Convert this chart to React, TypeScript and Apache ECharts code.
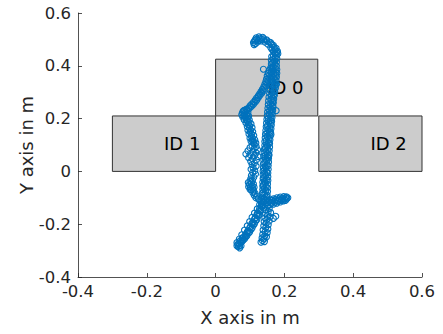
import React, { useEffect, useRef } from "react";
import * as echarts from "echarts";

// Obstacles (rectangles) and their labels
const rectX0 = [0, -0.3, 0.3];
const rectX1 = [0.297, 0, 0.6];
const rectY0 = [0.21, 0, 0];
const rectY1 = [0.425, 0.21, 0.21];
const rectLabels = ["ID 0", "ID 1", "ID 2"];
const labelX = [0.15, -0.15, 0.45];
const labelY = [0.316, 0.104, 0.104];

const xTickLabels = ["-0.4", "-0.2", "0", "0.2", "0.4", "0.6"];
const yTickLabels = ["-0.4", "-0.2", "0", "0.2", "0.4", "0.6"];

// Trajectory segments
const pathBottomLeft: number[][] = [
  [0.066, -0.284], [0.070, -0.280], [0.068, -0.274], [0.073, -0.270], [0.076, -0.266],
  [0.072, -0.262], [0.080, -0.259], [0.084, -0.256], [0.080, -0.251], [0.088, -0.248],
  [0.091, -0.244], [0.087, -0.238], [0.095, -0.234], [0.099, -0.230], [0.095, -0.224],
  [0.103, -0.220], [0.106, -0.214], [0.102, -0.208], [0.110, -0.204], [0.113, -0.198],
  [0.109, -0.192], [0.117, -0.188], [0.120, -0.182], [0.116, -0.176], [0.124, -0.170],
  [0.126, -0.164], [0.122, -0.158], [0.130, -0.152], [0.132, -0.146], [0.128, -0.140],
  [0.135, -0.134], [0.137, -0.128], [0.133, -0.122], [0.140, -0.116], [0.141, -0.110],
  [0.064, -0.276], [0.078, -0.252], [0.092, -0.230], [0.107, -0.200], [0.121, -0.166],
];
const pathBottomLeftB: number[][] = [
  [0.074, -0.282], [0.062, -0.270], [0.079, -0.262], [0.069, -0.256], [0.086, -0.244],
  [0.076, -0.240], [0.093, -0.228], [0.084, -0.222], [0.099, -0.214], [0.092, -0.206],
  [0.106, -0.196], [0.099, -0.190], [0.113, -0.180], [0.106, -0.174], [0.120, -0.164],
  [0.113, -0.158], [0.127, -0.148], [0.121, -0.142], [0.133, -0.132], [0.128, -0.126],
  [0.138, -0.118], [0.134, -0.114], [0.070, -0.290], [0.062, -0.282],
];
const pathRightStrand: number[][] = [
  [0.146, -0.108], [0.140, -0.101], [0.148, -0.094], [0.143, -0.087], [0.138, -0.080],
  [0.146, -0.073], [0.141, -0.066], [0.147, -0.059], [0.139, -0.052], [0.145, -0.045],
  [0.142, -0.038], [0.148, -0.031], [0.140, -0.024], [0.146, -0.017], [0.143, -0.010],
  [0.149, -0.003], [0.141, 0.004], [0.147, 0.011], [0.144, 0.018], [0.150, 0.025],
  [0.143, 0.032], [0.149, 0.039], [0.145, 0.046], [0.151, 0.053], [0.144, 0.060],
  [0.150, 0.067], [0.146, 0.074], [0.152, 0.081], [0.145, 0.088], [0.151, 0.095],
  [0.148, 0.102], [0.154, 0.109], [0.147, 0.116], [0.155, 0.123], [0.150, 0.130],
  [0.156, 0.137], [0.149, 0.144], [0.157, 0.151], [0.152, 0.158], [0.158, 0.165],
  [0.151, 0.172], [0.159, 0.179], [0.154, 0.186], [0.160, 0.193], [0.153, 0.200],
  [0.161, 0.207], [0.156, 0.214], [0.162, 0.221], [0.157, 0.228], [0.163, 0.235],
  [0.158, 0.242], [0.165, 0.249], [0.160, 0.256], [0.166, 0.263], [0.161, 0.270],
  [0.167, 0.277], [0.162, 0.284], [0.169, 0.291], [0.163, 0.298], [0.170, 0.305],
  [0.165, 0.312], [0.171, 0.319], [0.166, 0.326], [0.172, 0.333], [0.167, 0.340],
  [0.173, 0.347], [0.168, 0.354], [0.174, 0.361], [0.169, 0.368], [0.175, 0.375],
  [0.168, 0.382], [0.174, 0.389], [0.167, 0.396], [0.173, 0.403], [0.166, 0.410],
  [0.172, 0.417], [0.167, 0.424], [0.173, 0.431], [0.168, 0.438], [0.174, 0.445],
  [0.176, 0.230], [0.155, 0.060], [0.161, 0.140], [0.177, 0.330],
];
const pathRightStrandB: number[][] = [
  [0.150, -0.104], [0.136, -0.097], [0.150, -0.090], [0.136, -0.083], [0.151, -0.076],
  [0.137, -0.069], [0.151, -0.062], [0.137, -0.055], [0.151, -0.048], [0.137, -0.041],
  [0.152, -0.034], [0.138, -0.027], [0.152, -0.020], [0.138, -0.013], [0.152, -0.006],
  [0.138, 0.001], [0.153, 0.008], [0.139, 0.015], [0.153, 0.022], [0.139, 0.029],
  [0.154, 0.036], [0.140, 0.043], [0.154, 0.050], [0.140, 0.057], [0.155, 0.064],
  [0.141, 0.071], [0.156, 0.078], [0.142, 0.085], [0.157, 0.092], [0.143, 0.099],
  [0.157, 0.106], [0.143, 0.113], [0.158, 0.120], [0.144, 0.127], [0.159, 0.134],
  [0.145, 0.141], [0.160, 0.148], [0.146, 0.155], [0.161, 0.162], [0.147, 0.169],
  [0.162, 0.176], [0.148, 0.183], [0.163, 0.190], [0.149, 0.197], [0.164, 0.204],
  [0.150, 0.211], [0.165, 0.218], [0.151, 0.225], [0.166, 0.232], [0.152, 0.239],
  [0.167, 0.246], [0.153, 0.253], [0.168, 0.260], [0.154, 0.267], [0.169, 0.274],
  [0.155, 0.281], [0.171, 0.288], [0.157, 0.295], [0.172, 0.302], [0.158, 0.309],
  [0.174, 0.316], [0.160, 0.323], [0.175, 0.330], [0.161, 0.337], [0.176, 0.344],
  [0.162, 0.351], [0.177, 0.358], [0.163, 0.365], [0.178, 0.372], [0.163, 0.379],
  [0.178, 0.386], [0.163, 0.393], [0.177, 0.400], [0.162, 0.407], [0.177, 0.414],
  [0.162, 0.421], [0.178, 0.428], [0.163, 0.435],
];
const pathTopCurl: number[][] = [
  [0.177, 0.452], [0.173, 0.461], [0.170, 0.470], [0.163, 0.480], [0.156, 0.490],
  [0.148, 0.498], [0.140, 0.502], [0.129, 0.505], [0.120, 0.500], [0.113, 0.494],
  [0.110, 0.488], [0.168, 0.455], [0.160, 0.470], [0.152, 0.482], [0.143, 0.490],
  [0.133, 0.494], [0.122, 0.490], [0.116, 0.484], [0.178, 0.440], [0.180, 0.455],
  [0.118, 0.506], [0.126, 0.510], [0.137, 0.508], [0.139, 0.387], [0.164, 0.462],
  [0.181, 0.446], [0.176, 0.466], [0.168, 0.478], [0.160, 0.488], [0.150, 0.494],
  [0.134, 0.500], [0.124, 0.496], [0.115, 0.498], [0.112, 0.480], [0.171, 0.448],
];
const pathLeftStrand: number[][] = [
  [0.160, 0.392], [0.156, 0.383], [0.153, 0.372], [0.150, 0.362], [0.148, 0.350],
  [0.146, 0.340], [0.143, 0.330], [0.140, 0.320], [0.136, 0.311], [0.132, 0.302],
  [0.128, 0.294], [0.124, 0.286], [0.119, 0.278], [0.115, 0.270], [0.110, 0.262],
  [0.105, 0.255], [0.100, 0.248], [0.096, 0.240], [0.092, 0.234],
  [0.085, 0.232], [0.080, 0.228], [0.078, 0.222], [0.083, 0.218], [0.088, 0.224],
  [0.084, 0.212], [0.090, 0.215], [0.086, 0.205], [0.092, 0.208], [0.089, 0.198],
  [0.094, 0.200], [0.092, 0.190], [0.097, 0.185], [0.095, 0.178], [0.099, 0.172],
  [0.098, 0.163], [0.102, 0.156], [0.101, 0.148], [0.105, 0.140], [0.104, 0.132],
  [0.108, 0.124], [0.107, 0.116], [0.111, 0.110],
  [0.112, 0.104], [0.106, 0.098], [0.118, 0.094], [0.100, 0.090], [0.112, 0.086],
  [0.122, 0.082], [0.094, 0.078], [0.108, 0.074], [0.118, 0.070], [0.088, 0.066],
  [0.100, 0.064], [0.113, 0.060], [0.124, 0.056], [0.096, 0.052], [0.107, 0.048],
  [0.119, 0.044], [0.102, 0.038], [0.113, 0.032], [0.106, 0.026], [0.118, 0.020],
  [0.109, 0.014], [0.103, 0.008], [0.114, 0.002], [0.108, -0.004], [0.116, -0.010],
  [0.104, -0.016], [0.111, -0.022], [0.102, -0.028], [0.107, -0.034],
  [0.100, -0.038], [0.104, -0.044], [0.098, -0.050], [0.106, -0.054], [0.101, -0.060],
  [0.108, -0.064], [0.104, -0.070], [0.111, -0.074], [0.108, -0.080], [0.115, -0.084],
  [0.112, -0.090], [0.119, -0.094], [0.117, -0.100], [0.124, -0.104], [0.128, -0.108],
  [0.134, -0.112],
];
const pathLeftStrandB: number[][] = [
  [0.165, 0.388], [0.161, 0.376], [0.157, 0.366], [0.155, 0.354], [0.152, 0.344],
  [0.149, 0.334], [0.146, 0.324], [0.142, 0.313], [0.138, 0.304], [0.134, 0.296],
  [0.129, 0.288], [0.124, 0.279], [0.120, 0.270], [0.115, 0.262], [0.110, 0.254],
  [0.104, 0.246], [0.098, 0.238],
  [0.076, 0.215], [0.082, 0.230], [0.090, 0.236], [0.094, 0.222], [0.079, 0.206],
  [0.096, 0.210], [0.083, 0.196], [0.098, 0.195], [0.088, 0.184], [0.103, 0.180],
  [0.092, 0.170], [0.106, 0.166], [0.094, 0.156], [0.108, 0.150], [0.097, 0.142],
  [0.111, 0.136], [0.100, 0.126], [0.114, 0.120], [0.103, 0.114], [0.117, 0.108],
  [0.095, -0.042], [0.110, -0.048], [0.096, -0.058], [0.112, -0.060], [0.100, -0.068],
];
const pathBump: number[][] = [
  [0.150, -0.118], [0.155, -0.114], [0.160, -0.116], [0.165, -0.110], [0.170, -0.113],
  [0.175, -0.107], [0.180, -0.110], [0.185, -0.104], [0.190, -0.108], [0.195, -0.101],
  [0.200, -0.105], [0.204, -0.099], [0.207, -0.104], [0.203, -0.110], [0.197, -0.112],
  [0.188, -0.116], [0.178, -0.120], [0.168, -0.124], [0.158, -0.126], [0.152, -0.130],
  [0.158, -0.108], [0.168, -0.104], [0.178, -0.100], [0.188, -0.097], [0.198, -0.095],
  [0.206, -0.096], [0.210, -0.100], [0.163, -0.120], [0.173, -0.117], [0.183, -0.113],
  [0.193, -0.109],
];
const pathBottomRight: number[][] = [
  [0.150, -0.134], [0.156, -0.140], [0.146, -0.146], [0.153, -0.152], [0.160, -0.156],
  [0.145, -0.160], [0.151, -0.166], [0.158, -0.172], [0.168, -0.178], [0.143, -0.176],
  [0.149, -0.182], [0.156, -0.188], [0.141, -0.190], [0.147, -0.196], [0.153, -0.202],
  [0.140, -0.206], [0.146, -0.212], [0.152, -0.218], [0.138, -0.222], [0.144, -0.228],
  [0.150, -0.232], [0.137, -0.238], [0.143, -0.244], [0.148, -0.248], [0.135, -0.252],
  [0.141, -0.256], [0.136, -0.262], [0.142, -0.266], [0.132, -0.268], [0.175, -0.170],
];

const AXIS_COLOR = "#262626";
const FONT = "DejaVu Sans";

export default function App() {
  const ref = useRef<HTMLDivElement>(null);
  useEffect(() => {
    if (!ref.current) return;
    const chart = echarts.init(ref.current, null, { renderer: "svg" });
    const rectData = rectX0.map((x0, i) => [x0, rectY0[i], rectX1[i], rectY1[i]]);
    const labelData = rectLabels.map((t, i) => [labelX[i], labelY[i], t]);
    const points = [
      ...pathBottomLeft,
      ...pathBottomLeftB,
      ...pathRightStrand,
      ...pathRightStrandB,
      ...pathTopCurl,
      ...pathLeftStrand,
      ...pathLeftStrandB,
      ...pathBump,
      ...pathBottomRight,
    ];
    const tickFmt = (labels: string[]) => (v: number) => {
      const i = Math.round((v + 0.4) / 0.2);
      return labels[i] ?? "";
    };
    const axisCommon = {
      type: "value",
      min: -0.4,
      max: 0.6,
      interval: 0.2,
      nameLocation: "middle",
      nameMoveOverlap: false,
      nameTextStyle: { color: AXIS_COLOR, fontSize: 18, fontFamily: FONT },
      splitLine: { show: false },
      axisLine: { onZero: false, lineStyle: { color: AXIS_COLOR, width: 0.8 } },
      axisTick: { inside: true, length: 4, lineStyle: { color: AXIS_COLOR, width: 0.8 } },
    };
    chart.setOption({
      animation: false,
      backgroundColor: "#ffffff",
      grid: { left: 78, right: 21, top: 13, bottom: 57 },
      xAxis: {
        ...axisCommon,
        name: "X axis in m",
        nameGap: 31,
        axisLabel: {
          color: AXIS_COLOR,
          fontSize: 16.5,
          fontFamily: FONT,
          margin: 6,
          showMinLabel: true,
          showMaxLabel: true,
          formatter: tickFmt(xTickLabels),
        },
      },
      yAxis: {
        ...axisCommon,
        name: "Y axis in m",
        nameGap: 43,
        nameRotate: 90,
        axisLabel: {
          color: AXIS_COLOR,
          fontSize: 16.5,
          fontFamily: FONT,
          margin: 7,
          showMinLabel: true,
          showMaxLabel: true,
          formatter: tickFmt(yTickLabels),
        },
      },
      series: [
        {
          type: "custom",
          z: 1,
          data: rectData,
          renderItem: (params: any, api: any) => {
            const p0 = api.coord([api.value(0), api.value(1)]);
            const p1 = api.coord([api.value(2), api.value(3)]);
            return {
              type: "rect",
              shape: {
                x: Math.min(p0[0], p1[0]),
                y: Math.min(p0[1], p1[1]),
                width: Math.abs(p1[0] - p0[0]),
                height: Math.abs(p1[1] - p0[1]),
              },
              style: { fill: "#cccccc", stroke: "#333333", lineWidth: 1 },
            };
          },
        },
        {
          type: "custom",
          z: 2,
          data: labelData,
          renderItem: (params: any, api: any) => {
            const p = api.coord([api.value(0), api.value(1)]);
            return {
              type: "text",
              x: p[0],
              y: p[1],
              style: {
                text: labelData[params.dataIndex][2],
                fill: "#000000",
                font: `18px "${FONT}"`,
                align: "left",
                verticalAlign: "middle",
              },
            };
          },
        },
        {
          type: "scatter",
          z: 3,
          data: points,
          symbol: "circle",
          symbolSize: 6,
          itemStyle: {
            color: "rgba(0,0,0,0)",
            borderColor: "#0072BD",
            borderWidth: 1.1,
            opacity: 1,
          },
          emphasis: { disabled: true },
        },
      ],
    });
    return () => chart.dispose();
  }, []);
  return (
    <div
      ref={ref}
      style={{ position: "absolute", left: 0, top: 0, width: 443, height: 334 }}
    />
  );
}
